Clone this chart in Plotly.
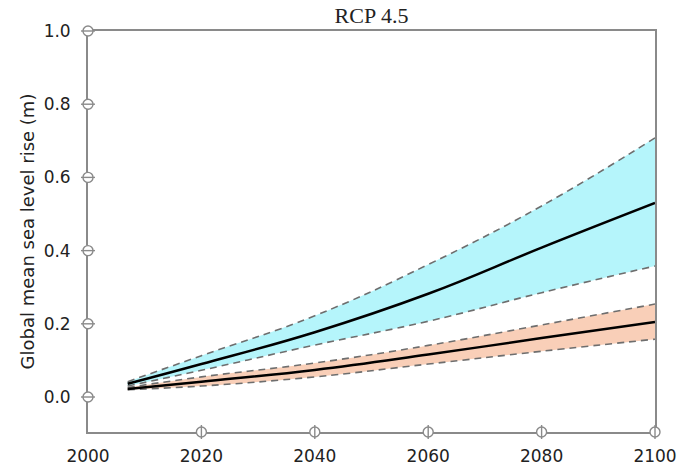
import plotly.graph_objects as go

years = [2007, 2020, 2040, 2060, 2080, 2100]
cyan_median = [0.036, 0.090, 0.177, 0.282, 0.408, 0.530]
cyan_upper = [0.042, 0.113, 0.222, 0.362, 0.522, 0.708]
cyan_lower = [0.030, 0.073, 0.142, 0.207, 0.285, 0.358]
orange_median = [0.022, 0.042, 0.074, 0.116, 0.161, 0.205]
orange_upper = [0.026, 0.055, 0.093, 0.141, 0.197, 0.254]
orange_lower = [0.020, 0.030, 0.055, 0.090, 0.125, 0.158]

x_ticks = [2000, 2020, 2040, 2060, 2080, 2100]
y_ticks = [0.0, 0.2, 0.4, 0.6, 0.8, 1.0]
x_range = [2000, 2100]
y_range = [-0.0956, 1.0]

title = "RCP 4.5"
y_title = "Global mean sea level rise (m)"

AX = "#8a8a8a"
DASH = "#6e6e6e"
SM = 1.2

fig = go.Figure()

def band(lower, upper, median, fill):
    fig.add_trace(go.Scatter(x=years, y=lower, mode="lines", line=dict(width=0, shape="spline", smoothing=SM),
                             hoverinfo="skip", showlegend=False))
    fig.add_trace(go.Scatter(x=years, y=upper, mode="lines", line=dict(width=0, shape="spline", smoothing=SM),
                             fill="tonexty", fillcolor=fill, hoverinfo="skip", showlegend=False))
    for s in (upper, lower):
        fig.add_trace(go.Scatter(x=years, y=s, mode="lines",
                                 line=dict(color=DASH, width=1.6, dash="7px,5px", shape="spline", smoothing=SM),
                                 showlegend=False))
    fig.add_trace(go.Scatter(x=years, y=median, mode="lines",
                             line=dict(color="black", width=2.5, shape="spline", smoothing=SM),
                             showlegend=False))

band(orange_lower, orange_upper, orange_median, "#f9cfb8")
band(cyan_lower, cyan_upper, cyan_median, "#b5f5fb")

# tick circles on axes
yc = y_ticks
fig.add_trace(go.Scatter(x=[x_range[0]] * len(yc), y=yc, mode="markers", cliponaxis=False,
                         marker=dict(symbol="circle", size=10, color="white", line=dict(color=AX, width=1.4)),
                         hoverinfo="skip", showlegend=False))
fig.add_trace(go.Scatter(x=[x_range[0]] * len(yc), y=yc, mode="markers", cliponaxis=False,
                         marker=dict(symbol="line-ew", size=10, line=dict(color=AX, width=1.4)),
                         hoverinfo="skip", showlegend=False))
xc = x_ticks[1:]
fig.add_trace(go.Scatter(x=xc, y=[y_range[0]] * len(xc), mode="markers", cliponaxis=False,
                         marker=dict(symbol="circle", size=10, color="white", line=dict(color=AX, width=1.4)),
                         hoverinfo="skip", showlegend=False))
fig.add_trace(go.Scatter(x=xc, y=[y_range[0]] * len(xc), mode="markers", cliponaxis=False,
                         marker=dict(symbol="line-ns", size=10, line=dict(color=AX, width=1.4)),
                         hoverinfo="skip", showlegend=False))

TF = dict(family="DejaVu Sans, sans-serif", size=17, color="#222")

fig.update_layout(
    width=691, height=468,
    margin=dict(l=88, r=36, t=31, b=36),
    paper_bgcolor="white", plot_bgcolor="white",
    title=dict(text=title, xref="paper", x=0.5, xanchor="center", y=1 - 15 / 468, yanchor="middle",
               font=dict(family="Liberation Serif, serif", size=22, color="#222")),
    xaxis=dict(range=x_range, tickvals=x_ticks, ticks="", showgrid=False, zeroline=False,
               showline=True, linecolor=AX, linewidth=1.8, mirror=True, layer="below traces",
               automargin=False, ticklabelstandoff=8, tickfont=TF),
    yaxis=dict(range=y_range, tickvals=y_ticks, tickformat=".1f", ticks="", showgrid=False, zeroline=False,
               showline=True, linecolor=AX, linewidth=1.8, mirror=True, layer="below traces",
               automargin=False, ticklabelstandoff=12,
               title=dict(text=y_title, standoff=4,
                          font=dict(family="DejaVu Sans, sans-serif", size=18, color="#222")),
               tickfont=TF),
)

fig.write_html("out.html")
